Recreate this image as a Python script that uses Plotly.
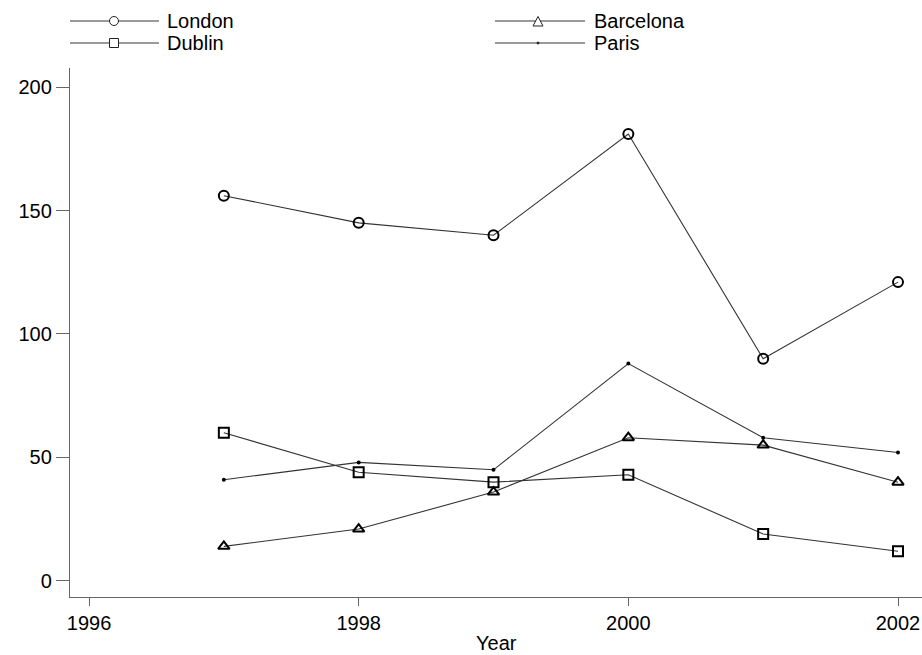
import plotly.graph_objects as go

years = [1997, 1998, 1999, 2000, 2001, 2002]
london = [156, 145, 140, 181, 90, 121]
barcelona = [14, 21, 36, 58, 55, 40]
dublin = [60, 44, 40, 43, 19, 12]
paris = [41, 48, 45, 88, 58, 52]

x_ticks = [1996, 1998, 2000, 2002]
y_ticks = [0, 50, 100, 150, 200]

FONT = "Liberation Sans, Arial, sans-serif"
W, H = 922, 655
L, R, T, B = 70, 0, 68, 58
PW, PH = W - L - R, H - T - B

series = [
    ("London", london, "circle-open", 10),
    ("Barcelona", barcelona, "triangle-up-open", 10),
    ("Dublin", dublin, "square-open", 10),
    ("Paris", paris, "circle", 2),
]

fig = go.Figure()
for name, vals, sym, size in series:
    fig.add_trace(go.Scatter(
        x=years, y=vals, name=name, mode="lines+markers",
        line=dict(color="#333333", width=1.1),
        marker=dict(symbol=sym, size=size, color="black",
                    line=dict(color="black", width=2)),
        showlegend=False,
    ))


def px_x(px):
    return (px - L) / PW


def px_y(py):
    return (H - B - py) / PH


# two-column key above the plot area
key_cols = [(70, 159, 114, 165), (495, 585, 538, 592)]
key_rows = [21, 43]
key_layout = [("London", 0, 0, "circle"), ("Barcelona", 1, 0, "triangle"),
              ("Dublin", 0, 1, "square"), ("Paris", 1, 1, "dot")]

shapes, annotations = [], []
for label, c, r, glyph in key_layout:
    x0, x1, xm, xt = key_cols[c]
    yy = px_y(key_rows[r])
    shapes.append(dict(type="line", xref="paper", yref="paper",
                       x0=px_x(x0), x1=px_x(x1), y0=yy, y1=yy,
                       line=dict(color="#777777", width=1.5)))
    common = dict(xref="paper", yref="paper", xsizemode="pixel", ysizemode="pixel",
                  xanchor=px_x(xm), yanchor=yy, fillcolor="white",
                  line=dict(color="#222222", width=1))
    if glyph == "circle":
        shapes.append(dict(type="circle", x0=-4.5, x1=4.5, y0=-4.5, y1=4.5, **common))
    elif glyph == "square":
        shapes.append(dict(type="rect", x0=-4.5, x1=4.5, y0=-4.5, y1=4.5, **common))
    elif glyph == "triangle":
        shapes.append(dict(type="path", path="M-5,-5 L5,-5 L0,4.5 Z", **common))
    else:
        shapes.append(dict(type="circle", x0=-1, x1=1, y0=-1, y1=1,
                           **{**common, "fillcolor": "#222222"}))
    annotations.append(dict(text=label, xref="paper", yref="paper",
                            x=px_x(xt), y=yy, xanchor="left", yanchor="middle",
                            showarrow=False, font=dict(family=FONT, size=20, color="black")))

annotations.append(dict(text="Year", xref="paper", yref="paper", x=0.5, y=px_y(643),
                        xanchor="center", yanchor="middle", showarrow=False,
                        font=dict(family=FONT, size=20, color="black")))

axis_common = dict(
    showgrid=False, zeroline=False, showline=True,
    linecolor="#666666", linewidth=1.3, automargin=False,
    ticks="outside", tickcolor="#666666", tickwidth=1.3,
    tickfont=dict(family=FONT, size=20, color="black"),
)

fig.update_layout(
    width=W, height=H,
    margin=dict(l=L, r=R, t=T, b=B),
    paper_bgcolor="white", plot_bgcolor="white",
    font=dict(family=FONT, size=20, color="black"),
    xaxis=dict(range=[1995.859, 2002.178], tickvals=x_ticks, ticklen=8,
               ticklabeloverflow="allow", **axis_common),
    yaxis=dict(range=[-6.5, 207.7], tickvals=y_ticks, ticklen=13, **axis_common),
    shapes=shapes, annotations=annotations,
    showlegend=False,
)

fig.write_html("out.html")
